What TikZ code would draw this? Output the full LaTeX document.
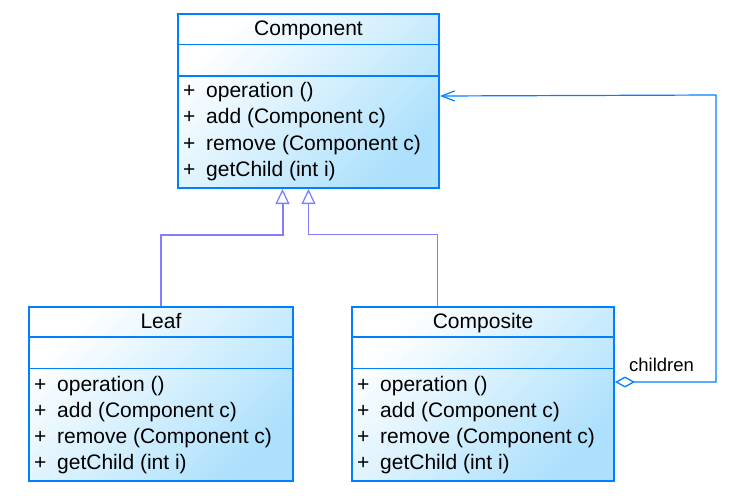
\documentclass[tikz,border=0pt]{standalone}
\usepackage{fontspec}
\setmainfont{Liberation Sans}
\usetikzlibrary{arrows.meta}

\definecolor{umlline}{RGB}{0,128,255}
\definecolor{umlfill}{RGB}{172,224,252}
\definecolor{umlgen}{RGB}{128,128,255}

\begin{document}
\begin{tikzpicture}[x=1pt,y=-1pt,
  classbox/.style={draw=umlline, line width=2pt, top color=white, bottom color=umlfill,
    shading angle=45, inner sep=0pt, anchor=north west, minimum height=174pt},
  septhin/.style={draw=umlline, line width=1pt},
  septhick/.style={draw=umlline, line width=2pt},
  classname/.style={font=\fontsize{21}{25}\selectfont, anchor=base, inner sep=0pt},
  opline/.style={font=\fontsize{21}{25}\selectfont, anchor=base west, inner sep=0pt},
  generalize/.style={draw=umlgen, -{Triangle[fill=white, length=15pt, width=14pt, line width=1.3pt]}},
  aggregate/.style={draw=umlline, line width=1.2pt,
    {Diamond[open, length=20pt, width=11pt, line width=1.3pt]}-{Straight Barb[length=13pt, width=10pt, line width=1.2pt]}}]
\useasboundingbox (0,0) rectangle (738,495);

% Component
\node[classbox, minimum width=261pt] (component) at (177,13) {};
\draw[septhin] ([yshift=-32pt]component.north west) -- ([yshift=-32pt]component.north east);
\draw[septhick] ([yshift=-63pt]component.north west) -- ([yshift=-63pt]component.north east);
\node[classname] (component-name) at ([yshift=-23pt]component.north) {Component};
\foreach \op [count=\i] in {operation (), add (Component c), remove (Component c), getChild (int i)}
  \node[opline] (component-op\i) at ([xshift=6pt, yshift={-84pt-26.5pt*(\i-1)}]component.north west)
    {\makebox[23pt][l]{+}\op};

% Leaf
\node[classbox, minimum width=264pt] (leaf) at (28,306) {};
\draw[septhick] ([yshift=-31pt]leaf.north west) -- ([yshift=-31pt]leaf.north east);
\draw[septhin] ([yshift=-62pt]leaf.north west) -- ([yshift=-62pt]leaf.north east);
\node[classname] (leaf-name) at ([yshift=-22pt]leaf.north) {Leaf};
\foreach \op [count=\i] in {operation (), add (Component c), remove (Component c), getChild (int i)}
  \node[opline] (leaf-op\i) at ([xshift=6pt, yshift={-85pt-26pt*(\i-1)}]leaf.north west)
    {\makebox[23pt][l]{+}\op};

% Composite
\node[classbox, minimum width=262pt] (composite) at (351,306) {};
\draw[septhick] ([yshift=-31pt]composite.north west) -- ([yshift=-31pt]composite.north east);
\draw[septhin] ([yshift=-62pt]composite.north west) -- ([yshift=-62pt]composite.north east);
\node[classname] (composite-name) at ([yshift=-22pt]composite.north) {Composite};
\foreach \op [count=\i] in {operation (), add (Component c), remove (Component c), getChild (int i)}
  \node[opline] (composite-op\i) at ([xshift=6pt, yshift={-85pt-26pt*(\i-1)}]composite.north west)
    {\makebox[23pt][l]{+}\op};

% generalizations
\draw[generalize, line width=2pt] (leaf.north) -- (leaf.north |- 0,235) -| ([xshift=-26pt]component.south);
\draw[generalize, line width=1pt] ([xshift=86pt]composite.north west) -- ++(0,-72) -| (component.south);

% children aggregation
\coordinate (loop) at (716,95);
\draw[aggregate] ([yshift=12pt]composite.east) -| (loop) -- ([yshift=5pt]component.east);
\node[font=\fontsize{18.5}{22}\selectfont, anchor=base west, inner sep=0pt] (children) at (629,371) {children};
\end{tikzpicture}
\end{document}
